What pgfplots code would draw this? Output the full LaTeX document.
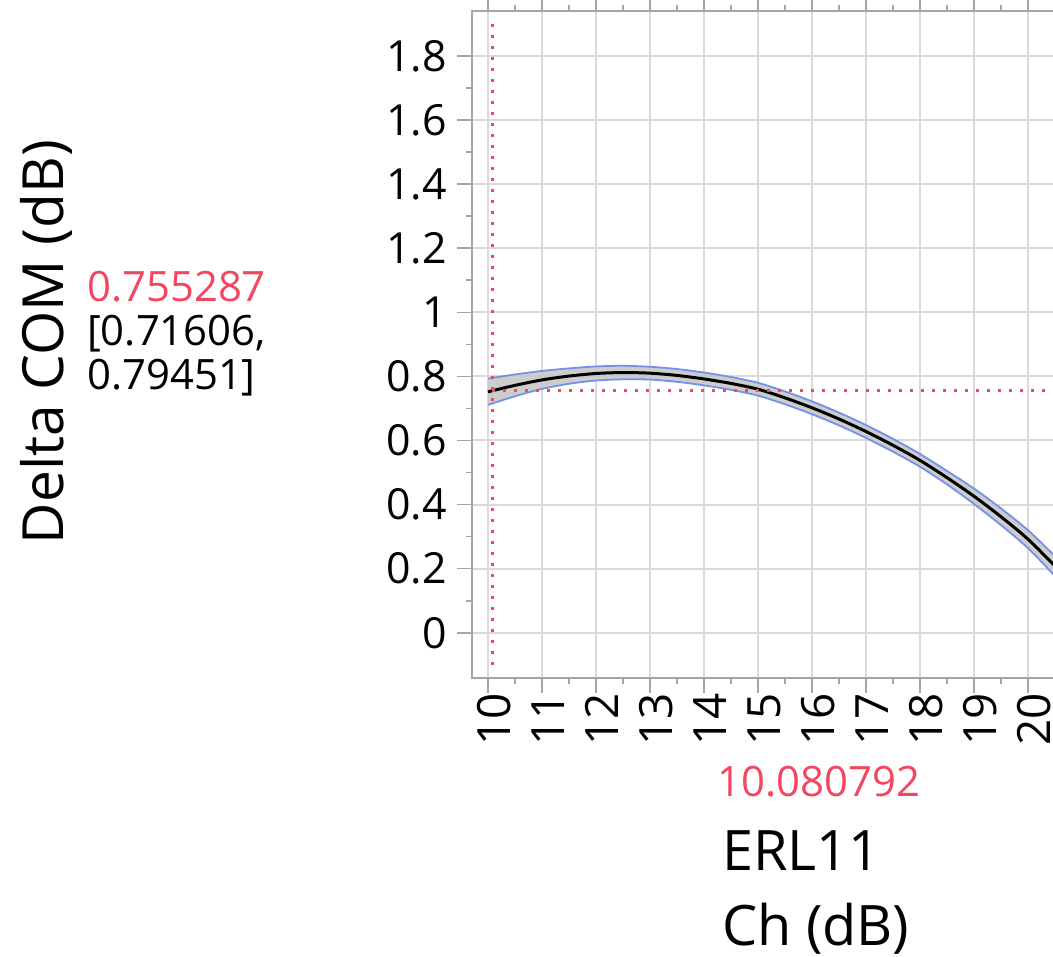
\documentclass[border=0pt]{standalone}
\usepackage{pgfplots}
\pgfplotsset{compat=1.18}
\usepackage{pgfplotstable}
\usepgfplotslibrary{fillbetween}
\usepackage{fontspec}
\setmainfont{Open Sans}
\definecolor{jmpred}{RGB}{245,70,95}
\definecolor{jmpblue}{RGB}{115,145,235}
\definecolor{bandgray}{RGB}{200,200,200}
\definecolor{gridgray}{RGB}{218,218,218}
\definecolor{framegray}{RGB}{165,165,165}
\pgfplotstableread{
x     y      lo     hi
10.0  0.752  0.711  0.793
10.5  0.772  0.738  0.806
11.0  0.789  0.761  0.817
11.5  0.801  0.777  0.825
12.0  0.809  0.787  0.831
12.5  0.812  0.791  0.833
13.0  0.810  0.790  0.830
13.5  0.803  0.783  0.823
14.0  0.792  0.772  0.812
14.5  0.778  0.758  0.798
15.0  0.760  0.740  0.780
15.5  0.733  0.713  0.753
16.0  0.702  0.682  0.722
16.5  0.667  0.647  0.687
17.0  0.628  0.608  0.648
17.5  0.585  0.565  0.605
18.0  0.538  0.518  0.558
18.5  0.484  0.463  0.505
19.0  0.426  0.402  0.450
19.5  0.362  0.336  0.388
20.0  0.292  0.264  0.320
20.5  0.208  0.177  0.239
20.8  0.155  0.122  0.188
}\profile
\pgfplotstableread{
x       y
10.0808 -0.1
10.0808 1.9
}\vline
\pgfplotstableread{
x       y
10.0808 0.755287
21.0    0.755287
}\hline
\begin{document}
\begin{tikzpicture}[x=1bp,y=1bp]
\begin{axis}[
  at={(472bp,279bp)}, anchor=south west,
  scale only axis, width=599.2bp, height=667bp,
  xmin=9.704, xmax=20.8, ymin=-0.141, ymax=1.940,
  xtick={10,11,...,20}, ytick={0,0.2,...,1.8},
  minor x tick num=1, minor y tick num=1,
  grid=major,
  major grid style={gridgray, line width=2bp},
  axis line style={framegray, line width=2bp},
  tick align=outside,
  major tick length=15bp, minor tick length=6bp,
  every tick/.style={framegray, line width=1.5bp},
  /pgf/number format/assume math mode=true,
  yticklabel style={font=\fontsize{43}{50}\selectfont, anchor=east, inner sep=0pt, xshift=-10bp},
  xticklabel style={font=\fontsize{46}{52}\selectfont, rotate=90, anchor=east, inner sep=0pt, yshift=-6bp},
  xticklabel={\pgfmathprintnumber[fixed]{\tick}},
  yticklabel={\pgfmathprintnumber[fixed,precision=1]{\tick}},
  clip=true,
]
\addplot[name path=up, jmpblue, line width=1.8bp, smooth] table[x=x,y=hi]{\profile};
\addplot[name path=dn, jmpblue, line width=1.8bp, smooth] table[x=x,y=lo]{\profile};
\addplot[bandgray, fill opacity=0.9] fill between[of=up and dn];
\addplot[black, line width=3bp, smooth] table[x=x,y=y]{\profile};
\addplot[jmpred, line width=3bp, dash pattern=on 3bp off 8bp] table{\vline};
\addplot[jmpred, line width=3bp, dash pattern=on 3bp off 8bp] table{\hline};
\end{axis}
\node[rotate=90, anchor=base, font=\fontsize{57}{62}\selectfont, inner sep=0pt] at (63bp,615bp) {Delta COM (dB)};
\node[anchor=base west, font=\fontsize{42}{46}\selectfont, text=jmpred, inner sep=0pt] at (87bp,655bp) {0.755287};
\node[anchor=base west, font=\fontsize{42}{46}\selectfont, inner sep=0pt] at (87bp,611bp) {[0.71606,};
\node[anchor=base west, font=\fontsize{42}{46}\selectfont, inner sep=0pt] at (87bp,567bp) {0.79451]};
\node[anchor=base, font=\fontsize{42}{46}\selectfont, text=jmpred, inner sep=0pt] at (819bp,160bp) {10.080792};
\node[anchor=base west, font=\fontsize{56}{60}\selectfont, inner sep=0pt] at (722bp,86bp) {ERL11};
\node[anchor=base west, font=\fontsize{56}{60}\selectfont, inner sep=0pt] at (722bp,12bp) {Ch (dB)};
\pgfresetboundingbox
\path[use as bounding box] (0,0) rectangle (1053bp,957bp);
\end{tikzpicture}
\end{document}
